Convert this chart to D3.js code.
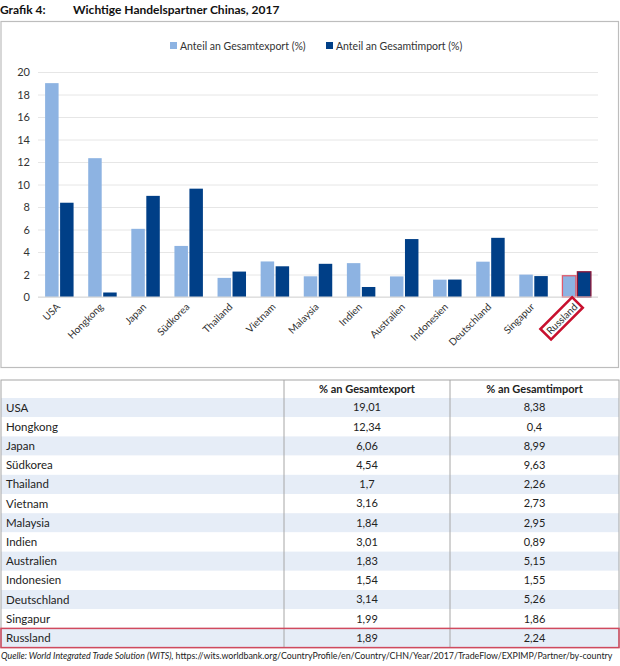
<!DOCTYPE html>
<html lang="de">

<head>
    <meta charset="UTF-8">
    <title>Wichtige Handelspartner Chinas, 2017</title>
    <script src="https://d3js.org/d3.v7.min.js"></script>
    <style>
        body {
            margin: 0;
            font-family: Lato, "Noto Sans", sans-serif;
            background: #fff;
        }
    </style>
</head>

<body>
    <div id="chart"></div>

    <script>
        // Data
        const countries = ["USA", "Hongkong", "Japan", "Südkorea", "Thailand", "Vietnam", "Malaysia",
            "Indien", "Australien", "Indonesien", "Deutschland", "Singapur", "Russland"];
        const exportShare = [19.01, 12.34, 6.06, 4.54, 1.7, 3.16, 1.84, 3.01, 1.83, 1.54, 3.14, 1.99, 1.89];
        const importShare = [8.38, 0.4, 8.99, 9.63, 2.26, 2.73, 2.95, 0.89, 5.15, 1.55, 5.26, 1.86, 2.24];
        const seriesNames = ["Anteil an Gesamtexport (%)", "Anteil an Gesamtimport (%)"];
        const tableHeaders = ["", "% an Gesamtexport", "% an Gesamtimport"];
        const yTicks = [0, 2, 4, 6, 8, 10, 12, 14, 16, 18, 20];
        const highlight = "Russland";

        const colors = ["#8db3e2", "#003f87"];
        const red = "#c8102e";
        const W = 620, H = 666;

        const svg = d3.select("#chart")
            .append("svg")
            .attr("width", W)
            .attr("height", H)
            .style("display", "block");

        // Title
        const title = svg.append("text")
            .attr("y", 14)
            .style("font-size", "12px")
            .style("font-weight", "bold")
            .attr("fill", "#111");
        title.append("tspan").attr("x", 0).text("Grafik 4:");
        title.append("tspan").attr("x", 73).text("Wichtige Handelspartner Chinas, 2017");

        // Chart frame
        svg.append("rect")
            .attr("x", 1).attr("y", 21.5)
            .attr("width", 617.5).attr("height", 346)
            .attr("fill", "#fff")
            .attr("stroke", "#bdbdbd")
            .attr("stroke-width", 1.2);

        const plot = { left: 38, right: 598, top: 72, bottom: 297 };

        const x0 = d3.scaleBand()
            .domain(countries)
            .range([plot.left, plot.right])
            .paddingInner(0.27)
            .paddingOuter(0.13);

        const x1 = d3.scaleBand()
            .domain([0, 1])
            .range([0, x0.bandwidth()])
            .padding(0.1);

        const y = d3.scaleLinear()
            .domain([0, 20])
            .range([plot.bottom, plot.top]);

        // Gridlines + y labels
        const yAxis = d3.axisLeft(y)
            .tickValues(yTicks)
            .tickSize(-(plot.right - plot.left))
            .tickPadding(8);

        const ga = svg.append("g")
            .attr("transform", `translate(${plot.left},0)`)
            .call(yAxis);
        ga.select(".domain").remove();
        ga.selectAll(".tick line").attr("stroke", "#e6e6e6");
        ga.selectAll(".tick text")
            .attr("fill", "#333")
            .style("font-size", "11px")
            .style("font-family", "Lato, sans-serif");

        // Bars
        const groups = svg.append("g")
            .selectAll("g")
            .data(countries)
            .join("g")
            .attr("transform", d => `translate(${x0(d)},0)`);

        groups.selectAll("rect")
            .data((d, i) => [
                { s: 0, v: exportShare[i], c: d },
                { s: 1, v: importShare[i], c: d }
            ])
            .join("rect")
            .attr("x", d => x1(d.s))
            .attr("y", d => y(d.v))
            .attr("width", x1.bandwidth())
            .attr("height", d => y(0) - y(d.v))
            .attr("fill", d => colors[d.s])
            .attr("stroke", d => d.c === highlight ? (d.s === 0 ? "#e05a6c" : "#8a1538") : "none")
            .attr("stroke-width", 1.3);

        // Baseline
        svg.append("line")
            .attr("x1", plot.left).attr("x2", plot.right)
            .attr("y1", y(0)).attr("y2", y(0))
            .attr("stroke", "#d9d9d9");

        // X labels
        const xl = svg.append("g")
            .selectAll("g")
            .data(countries)
            .join("g")
            .attr("transform", d => `translate(${x0(d) + x0.bandwidth() / 2 - 1},${plot.bottom + 8}) rotate(-45)`);

        xl.append("text")
            .attr("text-anchor", "end")
            .attr("dy", "0.35em")
            .attr("fill", "#333")
            .style("font-size", "10px")
            .text(d => d);

        xl.filter(d => d === highlight).each(function () {
            const g = d3.select(this);
            const bb = g.select("text").node().getBBox();
            g.insert("rect", "text")
                .attr("x", bb.x - 3)
                .attr("y", bb.y - 1.5)
                .attr("width", bb.width + 6)
                .attr("height", bb.height + 3)
                .attr("fill", "#fff")
                .attr("stroke", red)
                .attr("stroke-width", 2.6);
        });

        // Legend
        const legendX = [170, 326];
        const lg = svg.append("g")
            .selectAll("g")
            .data(seriesNames)
            .join("g")
            .attr("transform", (d, i) => `translate(${legendX[i]},46)`);
        lg.append("rect")
            .attr("x", 0).attr("y", -4)
            .attr("width", 7).attr("height", 7)
            .attr("fill", (d, i) => colors[i]);
        lg.append("text")
            .attr("x", 10)
            .attr("dy", "0.35em")
            .attr("fill", "#333")
            .style("font-size", "10.5px")
            .text(d => d);

        // Table
        const tbl = { top: 380, head: 18, row: 19.2, left: 1, right: 619, cols: [1, 284, 450, 619] };
        const rowsTop = tbl.top + tbl.head;
        const tblBottom = rowsTop + countries.length * tbl.row;
        const fmt = v => String(v).replace(".", ",");

        const tg = svg.append("g");

        tg.selectAll("rect.row")
            .data(countries)
            .join("rect")
            .attr("class", "row")
            .attr("x", tbl.left)
            .attr("y", (d, i) => rowsTop + i * tbl.row)
            .attr("width", tbl.right - tbl.left)
            .attr("height", tbl.row)
            .attr("fill", (d, i) => i % 2 === 0 ? "#e6edf7" : "#fff");

        // Header
        tg.selectAll("text.head")
            .data(tableHeaders)
            .join("text")
            .attr("class", "head")
            .attr("x", (d, i) => (tbl.cols[i] + tbl.cols[i + 1]) / 2)
            .attr("y", tbl.top + tbl.head / 2)
            .attr("dy", "0.35em")
            .attr("text-anchor", "middle")
            .attr("fill", "#222")
            .style("font-size", "11px")
            .style("font-weight", "bold")
            .text(d => d);

        const rows = tg.selectAll("g.r")
            .data(countries)
            .join("g")
            .attr("class", "r")
            .attr("transform", (d, i) => `translate(0,${rowsTop + i * tbl.row + tbl.row / 2})`);

        rows.append("text")
            .attr("x", 6)
            .attr("dy", "0.35em")
            .attr("fill", "#222")
            .style("font-size", "11.5px")
            .text(d => d);

        rows.append("text")
            .attr("x", (tbl.cols[1] + tbl.cols[2]) / 2)
            .attr("dy", "0.35em")
            .attr("text-anchor", "middle")
            .attr("fill", "#222")
            .style("font-size", "11px")
            .text((d, i) => fmt(exportShare[i]));

        rows.append("text")
            .attr("x", (tbl.cols[2] + tbl.cols[3]) / 2)
            .attr("dy", "0.35em")
            .attr("text-anchor", "middle")
            .attr("fill", "#222")
            .style("font-size", "11px")
            .text((d, i) => fmt(importShare[i]));

        // Column separators + outer border
        tg.selectAll("line.col")
            .data(tbl.cols.slice(1, 3))
            .join("line")
            .attr("class", "col")
            .attr("x1", d => d).attr("x2", d => d)
            .attr("y1", tbl.top).attr("y2", tblBottom)
            .attr("stroke", "#a6a6a6");

        tg.append("rect")
            .attr("x", tbl.left).attr("y", tbl.top)
            .attr("width", tbl.right - tbl.left)
            .attr("height", tblBottom - tbl.top)
            .attr("fill", "none")
            .attr("stroke", "#a6a6a6");

        const hi = countries.indexOf(highlight);
        tg.append("rect")
            .attr("x", tbl.left).attr("y", rowsTop + hi * tbl.row)
            .attr("width", tbl.right - tbl.left)
            .attr("height", tbl.row)
            .attr("fill", "none")
            .attr("stroke", "#d04a5e")
            .attr("stroke-width", 1.5);

        // Source line, font size shrunk until it fits the page width
        const src = svg.append("text")
            .attr("x", 1)
            .attr("y", 659)
            .attr("fill", "#222")
            .style("font-size", "9px");
        src.append("tspan")
            .style("font-style", "italic")
            .text("Quelle: World Integrated Trade Solution (WITS), ");
        src.append("tspan")
            .text("https://wits.worldbank.org/CountryProfile/en/Country/CHN/Year/2017/TradeFlow/EXPIMP/Partner/by-country");
        const natural = src.node().getComputedTextLength();
        if (natural > 612) src.style("font-size", (9 * 612 / natural) + "px");
    </script>
</body>

</html>
